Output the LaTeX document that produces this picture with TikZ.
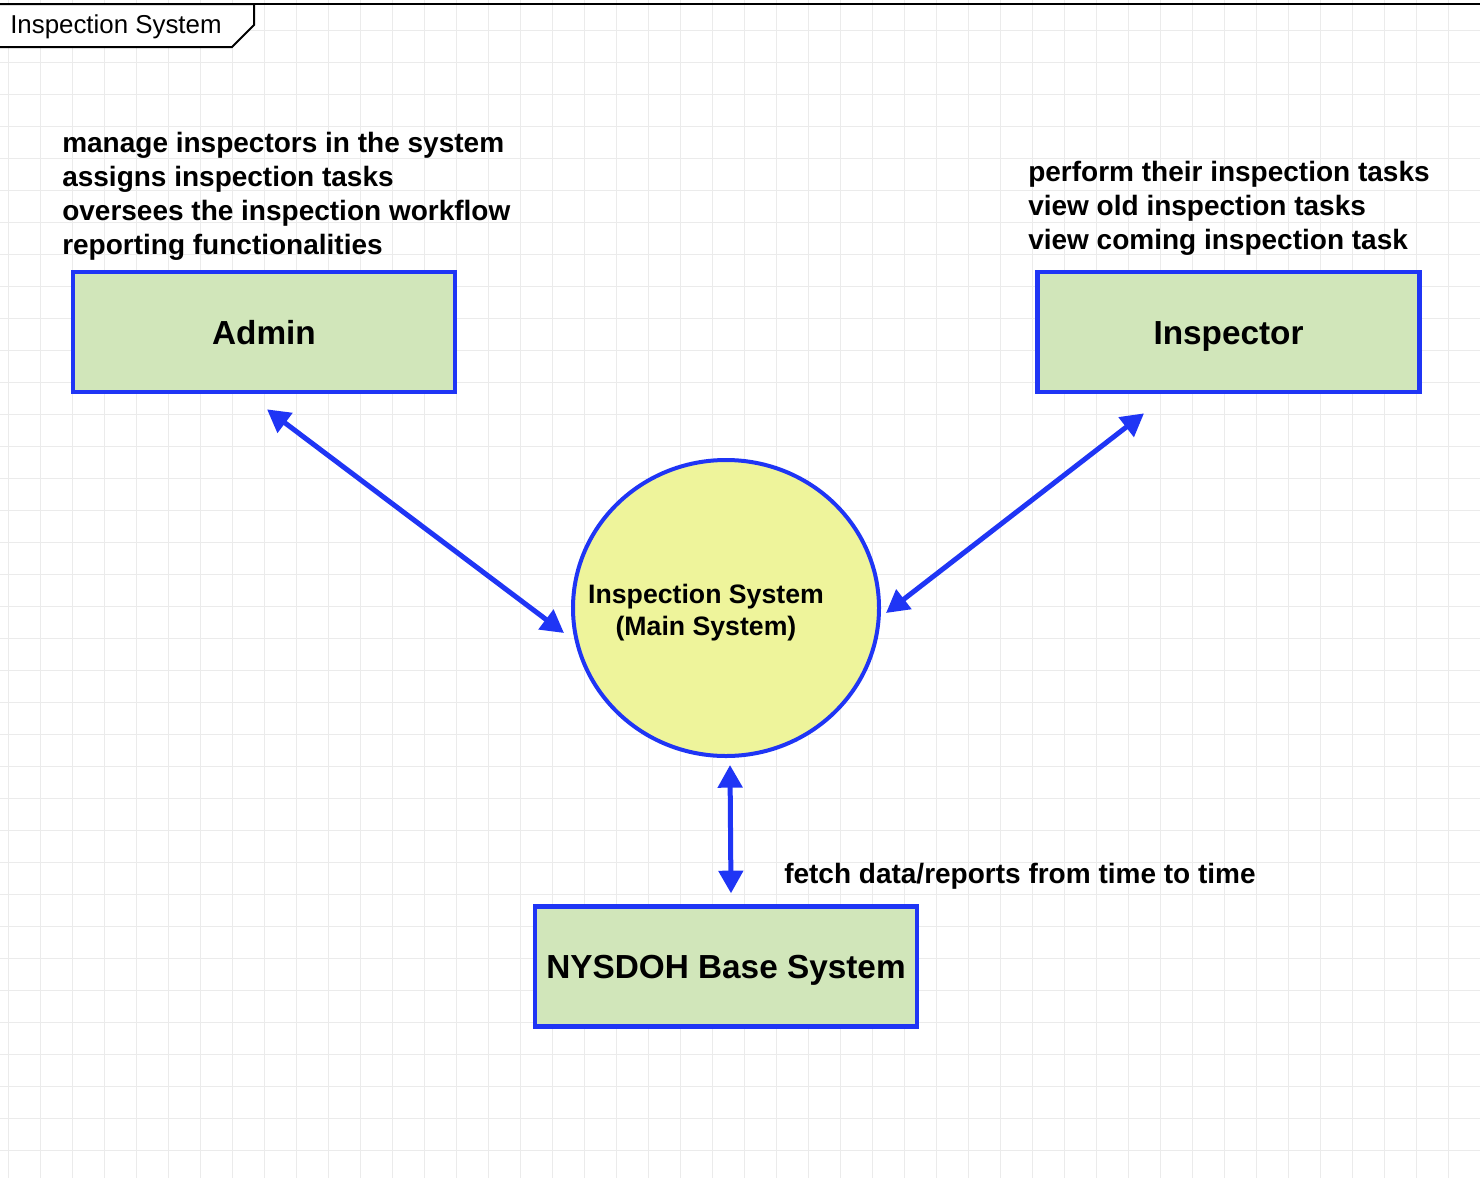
\documentclass[tikz,border=0pt]{standalone}
\usepackage{fontspec}
\setmainfont{Liberation Sans}
\usepackage{xcolor}
\usetikzlibrary{shapes.geometric}
\usetikzlibrary{arrows.meta}
\usetikzlibrary{positioning,calc}

\definecolor{flowblue}{HTML}{1F35F5}
\definecolor{actorgreen}{HTML}{D1E6BA}
\definecolor{hubyellow}{HTML}{EEF49B}
\definecolor{gridgray}{HTML}{EBEBEB}

\begin{document}
\begin{tikzpicture}[x=0.75pt, y=-0.75pt,
  actor/.style={rectangle, draw=flowblue, fill=actorgreen, line width=3.5pt, minimum width=286.5pt, minimum height=90pt, inner sep=0pt, text height=18pt, text depth=0pt, font=\fontsize{25}{30}\selectfont\bfseries},
  hub/.style={ellipse, draw=flowblue, fill=hubyellow, line width=3pt, minimum width=229.5pt, minimum height=222pt, inner sep=0pt},
  note/.style={align=left, inner sep=0pt, font=\fontsize{21}{25.5}\selectfont\bfseries},
  flow/.style={draw=flowblue, line width=3.75pt, <->, >={Triangle[length=17pt,width=18pt]}}]
  \useasboundingbox (0,0) rectangle (1480,1178);
  % background grid
  \fill[white] (0,0) rectangle (1480,1178);
  \foreach \gx in {8,40,...,1480} \draw[gridgray, line width=0.75pt] (\gx,0) -- (\gx,1178);
  \foreach \gy in {30,62,...,1178} \draw[gridgray, line width=0.75pt] (0,\gy) -- (1480,\gy);
  % frame and tab
  \draw[line width=1.5pt] (0,4) -- (1480,4);
  \filldraw[fill=white, line width=1.5pt] (-2,4) -- (254,4) -- (254,25) -- (232,47) -- (-2,47);
  \node[anchor=west, inner sep=0pt, font=\fontsize{19.4}{23}\selectfont] (frametitle) at (10,27) {Inspection System};

  \node[hub] (hub) at (726,608) {};
  \node[align=center, inner sep=0pt, font=\fontsize{20}{24}\selectfont\bfseries] (hubtext) at (706,613) {Inspection System\\(Main System)};
  \node[actor] (admin) at (264,332) {Admin};
  \node[actor] (inspector) [right of=admin, node distance=723.4pt] {Inspector};
  \node[actor] (base) [below of=hub, node distance=269pt] {NYSDOH Base System};

  \node[note, anchor=south west] (adminnote) at (62,261) {manage inspectors in the system\\assigns inspection tasks\\oversees the inspection workflow\\reporting functionalities};
  \node[note, anchor=south west] (inspectornote) at (1028,256) {perform their inspection tasks\\view old inspection tasks\\view coming inspection task};
  \node[note, anchor=base west] (fetchnote) at (784,883) {fetch data/reports from time to time};

  \draw[flow] ($(admin.south)+(3,15)$) -- ($(hub.west)+(-7,25)$);
  \draw[flow] ($(inspector.south)+(-84.5,19)$) -- ($(hub.east)+(5,5)$);
  \draw[flow] ($(hub.south)+(4,7)$) -- ($(base.north)+(5,-11)$);
\end{tikzpicture}
\end{document}
